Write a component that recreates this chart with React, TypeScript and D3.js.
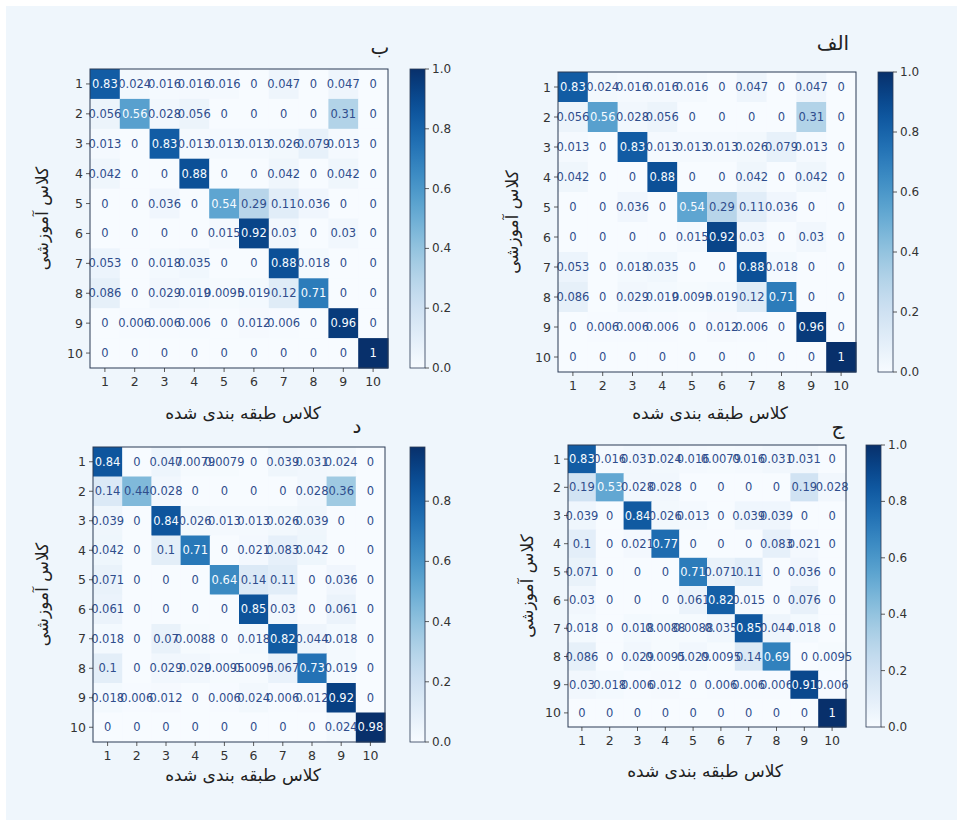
import React from 'react';
import * as d3 from 'd3';

const classes = ['1', '2', '3', '4', '5', '6', '7', '8', '9', '10'];

const matrixBe = [
  [0.83, 0.024, 0.016, 0.016, 0.016, 0, 0.047, 0, 0.047, 0],
  [0.056, 0.56, 0.028, 0.056, 0, 0, 0, 0, 0.31, 0],
  [0.013, 0, 0.83, 0.013, 0.013, 0.013, 0.026, 0.079, 0.013, 0],
  [0.042, 0, 0, 0.88, 0, 0, 0.042, 0, 0.042, 0],
  [0, 0, 0.036, 0, 0.54, 0.29, 0.11, 0.036, 0, 0],
  [0, 0, 0, 0, 0.015, 0.92, 0.03, 0, 0.03, 0],
  [0.053, 0, 0.018, 0.035, 0, 0, 0.88, 0.018, 0, 0],
  [0.086, 0, 0.029, 0.019, 0.0095, 0.019, 0.12, 0.71, 0, 0],
  [0, 0.006, 0.006, 0.006, 0, 0.012, 0.006, 0, 0.96, 0],
  [0, 0, 0, 0, 0, 0, 0, 0, 0, 1],
];

const matrixAlef = [
  [0.83, 0.024, 0.016, 0.016, 0.016, 0, 0.047, 0, 0.047, 0],
  [0.056, 0.56, 0.028, 0.056, 0, 0, 0, 0, 0.31, 0],
  [0.013, 0, 0.83, 0.013, 0.013, 0.013, 0.026, 0.079, 0.013, 0],
  [0.042, 0, 0, 0.88, 0, 0, 0.042, 0, 0.042, 0],
  [0, 0, 0.036, 0, 0.54, 0.29, 0.11, 0.036, 0, 0],
  [0, 0, 0, 0, 0.015, 0.92, 0.03, 0, 0.03, 0],
  [0.053, 0, 0.018, 0.035, 0, 0, 0.88, 0.018, 0, 0],
  [0.086, 0, 0.029, 0.019, 0.0095, 0.019, 0.12, 0.71, 0, 0],
  [0, 0.006, 0.006, 0.006, 0, 0.012, 0.006, 0, 0.96, 0],
  [0, 0, 0, 0, 0, 0, 0, 0, 0, 1],
];

const matrixDal = [
  [0.84, 0, 0.047, 0.0079, 0.0079, 0, 0.039, 0.031, 0.024, 0],
  [0.14, 0.44, 0.028, 0, 0, 0, 0, 0.028, 0.36, 0],
  [0.039, 0, 0.84, 0.026, 0.013, 0.013, 0.026, 0.039, 0, 0],
  [0.042, 0, 0.1, 0.71, 0, 0.021, 0.083, 0.042, 0, 0],
  [0.071, 0, 0, 0, 0.64, 0.14, 0.11, 0, 0.036, 0],
  [0.061, 0, 0, 0, 0, 0.85, 0.03, 0, 0.061, 0],
  [0.018, 0, 0.07, 0.0088, 0, 0.018, 0.82, 0.044, 0.018, 0],
  [0.1, 0, 0.029, 0.029, 0.0095, 0.0095, 0.067, 0.73, 0.019, 0],
  [0.018, 0.006, 0.012, 0, 0.006, 0.024, 0.006, 0.012, 0.92, 0],
  [0, 0, 0, 0, 0, 0, 0, 0, 0.024, 0.98],
];

const matrixJim = [
  [0.83, 0.016, 0.031, 0.024, 0.016, 0.0079, 0.016, 0.031, 0.031, 0],
  [0.19, 0.53, 0.028, 0.028, 0, 0, 0, 0, 0.19, 0.028],
  [0.039, 0, 0.84, 0.026, 0.013, 0, 0.039, 0.039, 0, 0],
  [0.1, 0, 0.021, 0.77, 0, 0, 0, 0.083, 0.021, 0],
  [0.071, 0, 0, 0, 0.71, 0.071, 0.11, 0, 0.036, 0],
  [0.03, 0, 0, 0, 0.061, 0.82, 0.015, 0, 0.076, 0],
  [0.018, 0, 0.018, 0.0088, 0.0088, 0.035, 0.85, 0.044, 0.018, 0],
  [0.086, 0, 0.029, 0.0095, 0.029, 0.0095, 0.14, 0.69, 0, 0.0095],
  [0.03, 0.018, 0.006, 0.012, 0, 0.006, 0.006, 0.006, 0.91, 0.006],
  [0, 0, 0, 0, 0, 0, 0, 0, 0, 1],
];

const colorbarTicks = [0, 0.2, 0.4, 0.6, 0.8, 1.0];

const xLabel = 'کلاس طبقه بندی شده';
const yLabel = 'کلاس آموزشی';

const panels = [
  { key: 'be', title: 'ب', data: matrixBe, x: 90, y: 69, w: 298, h: 299, cbX: 410, tx: 380, ty: 54, lx: 243, ly: 419, yx: 42 },
  { key: 'alef', title: 'الف', data: matrixAlef, x: 558, y: 72, w: 298, h: 300, cbX: 878, tx: 833, ty: 50, lx: 710, ly: 419, yx: 512 },
  { key: 'dal', title: 'د', data: matrixDal, x: 93, y: 447, w: 292, h: 295, cbX: 410, tx: 357, ty: 433, lx: 243, ly: 781, yx: 42 },
  { key: 'jim', title: 'ج', data: matrixJim, x: 568, y: 445, w: 278, h: 282, cbX: 866, tx: 838, ty: 434, lx: 705, ly: 777, yx: 527 },
];

const numFont = 'DejaVu Sans, sans-serif';
const lowText = '#2f4d8c';

function fmt(v: number): string {
  if (v === 0) return '0';
  if (v === 1) return '1';
  return String(+v.toPrecision(2));
}

function Panel({ p }: { p: typeof panels[number] }) {
  const flat = p.data.flat();
  const vmin = d3.min(flat) as number;
  const vmax = d3.max(flat) as number;
  const color = d3.scaleSequential(d3.interpolateBlues).domain([vmin, vmax]);
  const xs = d3.scaleBand<string>().domain(classes).range([p.x, p.x + p.w]);
  const ys = d3.scaleBand<string>().domain(classes).range([p.y, p.y + p.h]);
  const thresh = (vmin + vmax) / 2;
  const cbW = 15;
  const cbScale = d3.scaleLinear().domain([vmin, vmax]).range([p.y + p.h, p.y]);
  const gradId = `grad-${p.key}`;
  const stops = d3.range(0, 1.0001, 0.05);
  return (
    <g>
      <defs>
        <linearGradient id={gradId} x1="0" y1="1" x2="0" y2="0">
          {stops.map((t) => (
            <stop key={t} offset={t} stopColor={color(vmin + t * (vmax - vmin))} />
          ))}
        </linearGradient>
      </defs>
      {p.data.map((row, i) =>
        row.map((v, j) => (
          <rect
            key={`${i}-${j}`}
            x={xs(classes[j])}
            y={ys(classes[i])}
            width={xs.bandwidth() + 0.5}
            height={ys.bandwidth() + 0.5}
            fill={color(v)}
          />
        ))
      )}
      {p.data.map((row, i) =>
        row.map((v, j) => (
          <text
            key={`t${i}-${j}`}
            x={(xs(classes[j]) as number) + xs.bandwidth() / 2}
            y={(ys(classes[i]) as number) + ys.bandwidth() / 2}
            textAnchor="middle"
            dominantBaseline="central"
            fontFamily={numFont}
            fontSize={11.5}
            fill={v > thresh ? '#f7fbff' : lowText}
          >
            {fmt(v)}
          </text>
        ))
      )}
      <rect x={p.x} y={p.y} width={p.w} height={p.h} fill="none" stroke="#2b3a55" strokeWidth={1} />
      {classes.map((c) => {
        const cx = (xs(c) as number) + xs.bandwidth() / 2;
        const cy = (ys(c) as number) + ys.bandwidth() / 2;
        return (
          <g key={`ax${c}`}>
            <line x1={cx} x2={cx} y1={p.y + p.h} y2={p.y + p.h + 4} stroke="#333" strokeWidth={0.8} />
            <text x={cx} y={p.y + p.h + 18} textAnchor="middle" fontFamily={numFont} fontSize={12.5} fill="#333">
              {c}
            </text>
            <line x1={p.x - 4} x2={p.x} y1={cy} y2={cy} stroke="#333" strokeWidth={0.8} />
            <text x={p.x - 7} y={cy} textAnchor="end" dominantBaseline="central" fontFamily={numFont} fontSize={12.5} fill="#333">
              {c}
            </text>
          </g>
        );
      })}
      <rect x={p.cbX} y={p.y} width={cbW} height={p.h} fill={`url(#${gradId})`} stroke="#2b3a55" strokeWidth={0.8} />
      {colorbarTicks
        .filter((t) => t >= vmin - 1e-9 && t <= vmax + 1e-9)
        .map((t) => (
          <g key={`cb${t}`}>
            <line x1={p.cbX + cbW} x2={p.cbX + cbW + 4} y1={cbScale(t)} y2={cbScale(t)} stroke="#333" strokeWidth={0.8} />
            <text
              x={p.cbX + cbW + 7}
              y={cbScale(t)}
              dominantBaseline="central"
              fontFamily={numFont}
              fontSize={12}
              fill="#333"
            >
              {t.toFixed(1)}
            </text>
          </g>
        ))}
      <text x={p.tx} y={p.ty} textAnchor="middle" fontFamily="DejaVu Sans, sans-serif" fontSize={20} fill="#222">
        {p.title}
      </text>
      <text x={p.lx} y={p.ly} textAnchor="middle" fontFamily="DejaVu Sans, sans-serif" fontSize={17} fill="#222" direction="rtl">
        {xLabel}
      </text>
      <text
        transform={`translate(${p.yx},${p.y + p.h / 2}) rotate(-90)`}
        textAnchor="middle"
        dominantBaseline="central"
        fontFamily="DejaVu Sans, sans-serif"
        fontSize={17}
        fill="#222"
        direction="rtl"
      >
        {yLabel}
      </text>
    </g>
  );
}

export default function App() {
  return (
    <div style={{ position: 'absolute', left: 0, top: 0 }}>
      <svg width={963} height={826} viewBox="0 0 963 826">
        <rect x={0} y={0} width={963} height={826} fill="#ffffff" />
        <rect x={6} y={6} width={951} height={814} fill="#eff6fc" />
        {panels.map((p) => (
          <Panel key={p.key} p={p} />
        ))}
      </svg>
    </div>
  );
}
